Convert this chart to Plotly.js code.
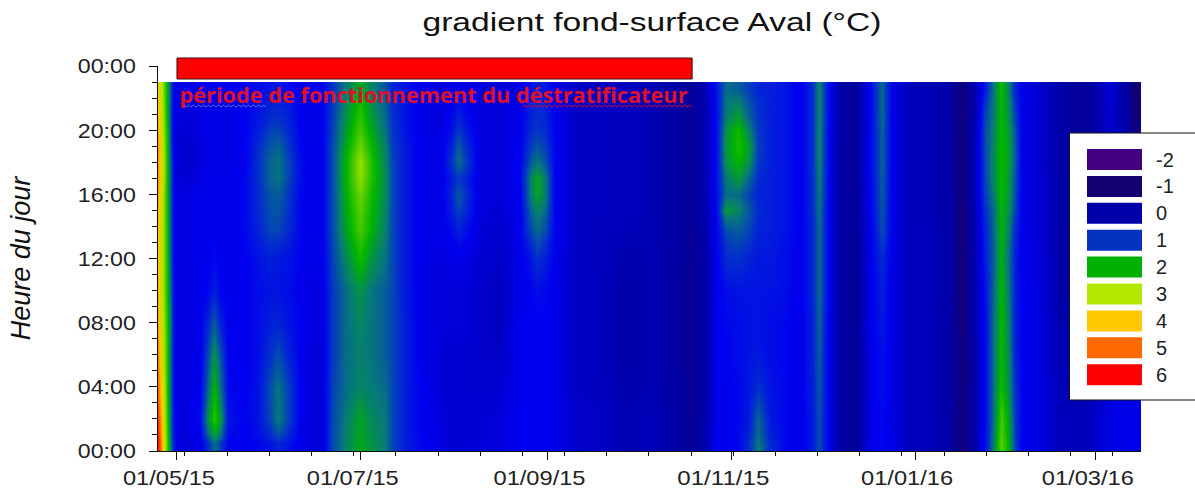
<!DOCTYPE html>
<html><head><meta charset="utf-8">
<script src="https://cdn.plot.ly/plotly-3.0.1.min.js"></script>
<style>html,body{margin:0;padding:0;background:#fff}</style></head>
<body><div id="chart" style="width:1195px;height:490px"></div>
<script>
// days since 01/05/2015 for each column of readings
const days = [-6.3,-5.3,-4.3,-3.3,-2.3,-1.3,0,2.7,7.6,10.3,12.3,14.3,16.9,22.6,26.9,30.9,33.5,36.9,40.8,44.8,48.1,51.5,55.8,60.8,64.7,69.1,71.4,75.7,80.7,87.3,91.3,93.3,95.6,100.6,107.2,113.9,117.2,119.5,122.2,125.5,132.1,140.4,148.7,157,165.3,170.3,175.3,178.9,182.3,186.3,189.6,192.9,196.9,201.9,206.8,210.8,213.1,215.5,219.5,225.1,230.1,234.1,237.4,241.7,250,256.6,260.3,264.9,268.3,270.9,273.6,275.9,278.2,280.5,286.5,293.2,301.5,309.8,315.7,317.5,322];
// cell edges of the hour-of-day readings
const hourEdges = [0,1,3,5,7,9,11,13,14.5,15.5,16.5,17.5,18.5,19.5,20.5,22,23];
// gradient (°C): one line per column, from 00h (first) up to 23h (last)
const gradient = [
[5.8,5.5,5.0,4.7,4.4,4.2,4.0,4.0,4.2,4.4,4.5,4.5,4.5,4.3,4.0,3.8],
[4.8,4.4,3.9,3.6,3.4,3.3,3.3,3.3,3.4,3.5,3.6,3.6,3.6,3.4,3.3,3.2],
[3.2,3.1,3.0,2.9,2.8,2.7,2.7,2.7,2.7,2.7,2.8,2.8,2.8,2.7,2.6,2.5],
[2.4,2.3,2.2,2.2,2.2,2.1,2.1,2.1,2.1,2.1,2.1,2.1,2.1,2.1,2.0,2.0],
[1.6,1.5,1.5,1.5,1.6,1.5,1.4,1.4,1.4,1.4,1.4,1.4,1.3,1.3,1.3,1.3],
[.9,.8,.8,.8,.8,.8,.7,.7,.7,.7,.7,.7,.6,.6,.6,.7],
[.5,.5,.5,.5,.5,.5,.5,.5,.5,.5,.4,.4,.4,.4,.5,.5],
[.4,.4,.45,.45,.45,.45,.45,.45,.45,.45,.35,.3,.3,.35,.4,.5],
[.5,.7,.6,.55,.55,.55,.55,.6,.6,.55,.5,.45,.45,.5,.5,.55],
[1.0,1.7,1.4,1.2,.95,.65,.55,.55,.55,.55,.5,.5,.5,.5,.5,.55],
[1.4,2.25,2.0,1.7,1.3,.85,.65,.6,.6,.6,.55,.55,.55,.55,.55,.6],
[1.1,1.8,1.45,1.25,.9,.65,.55,.55,.55,.55,.55,.5,.5,.5,.5,.55],
[.6,.75,.65,.6,.55,.55,.55,.55,.55,.55,.55,.5,.5,.5,.5,.55],
[.6,.6,.6,.6,.6,.6,.6,.65,.65,.65,.65,.6,.6,.6,.6,.6],
[.65,.75,.75,.7,.7,.7,.75,.9,.95,.95,1.0,1.0,.95,.85,.75,.7],
[.75,1.15,1.2,1.0,.85,.75,.85,1.15,1.2,1.25,1.35,1.35,1.25,1.1,.9,.75],
[.9,1.5,1.45,1.2,.9,.75,.8,1.15,1.25,1.3,1.45,1.45,1.35,1.15,.95,.75],
[.75,1.1,1.1,.9,.75,.7,.75,.95,1.0,1.05,1.15,1.15,1.05,.95,.85,.7],
[.55,.6,.6,.6,.6,.6,.6,.65,.65,.65,.7,.7,.65,.6,.6,.55],
[.4,.4,.4,.4,.45,.45,.5,.5,.5,.5,.5,.5,.5,.5,.5,.5],
[.45,.45,.45,.45,.5,.5,.55,.6,.6,.6,.6,.6,.6,.6,.6,.6],
[1.15,1.15,1.1,1.05,1.05,1.05,1.1,1.15,1.15,1.15,1.15,1.15,1.15,1.1,1.05,1.0],
[1.55,1.5,1.4,1.4,1.4,1.4,1.6,1.8,1.85,1.9,1.95,1.95,1.85,1.75,1.65,1.5],
[1.9,1.85,1.6,1.55,1.6,1.7,2.1,2.4,2.5,2.6,2.8,2.85,2.6,2.4,2.2,1.9],
[1.7,1.6,1.5,1.45,1.45,1.45,1.7,1.95,2.0,2.05,2.15,2.15,2.0,1.85,1.7,1.55],
[1.5,1.5,1.4,1.3,1.3,1.3,1.45,1.55,1.6,1.65,1.65,1.6,1.55,1.45,1.35,1.25],
[1.15,1.15,1.15,1.15,1.15,1.15,1.15,1.15,1.15,1.15,1.15,1.15,1.1,1.05,1.0,.9],
[.85,.85,.85,.85,.85,.8,.8,.8,.8,.8,.8,.8,.8,.75,.75,.75],
[.65,.6,.6,.55,.55,.55,.55,.55,.55,.55,.55,.55,.55,.55,.55,.55],
[.5,.45,.4,.4,.4,.4,.45,.5,.5,.5,.5,.5,.5,.45,.45,.45],
[.35,.35,.35,.35,.4,.4,.5,.7,.85,.95,.85,1.05,.9,.75,.65,.5],
[.35,.35,.35,.35,.4,.4,.55,.85,1.15,1.25,1.05,1.4,1.3,1.05,.8,.55],
[.35,.35,.35,.35,.4,.4,.5,.75,.95,1.05,.9,1.15,1.0,.85,.65,.5],
[.4,.35,.3,.3,.3,.3,.35,.4,.45,.45,.45,.45,.45,.45,.45,.45],
[.45,.45,.35,.25,.2,.2,.25,.3,.35,.4,.4,.4,.4,.4,.4,.4],
[.6,.6,.6,.6,.6,.55,.55,.6,.6,.6,.65,.65,.6,.55,.55,.5],
[.6,.6,.6,.6,.6,.6,.75,1.15,1.3,1.5,1.5,1.25,1.05,.95,.85,.75],
[.6,.6,.6,.6,.6,.7,1.0,1.4,1.6,1.85,1.9,1.5,1.25,1.05,.95,.85],
[.6,.6,.6,.6,.6,.65,.85,1.2,1.4,1.55,1.5,1.25,1.1,.95,.9,.8],
[.55,.55,.55,.55,.55,.55,.55,.6,.6,.6,.6,.6,.6,.6,.55,.55],
[.3,.3,.25,.25,.25,.25,.25,.25,.25,.25,.25,.25,.25,.25,.25,.25],
[.25,.25,.2,.2,.2,.2,.2,.2,.2,.2,.2,.2,.2,.2,.2,.2],
[.1,.1,.05,0,0,0,.05,.15,.2,.2,.2,.2,.2,.2,.2,.2],
[.15,.15,.1,.1,.1,.1,.1,.1,.1,.1,.1,.1,.1,.1,.1,.1],
[-.05,-.05,-.05,-.1,-.1,-.1,-.1,-.05,-.05,-.05,-.05,-.05,-.05,-.05,-.05,-.05],
[-.3,-.3,-.35,-.35,-.35,-.35,-.3,-.3,-.3,-.3,-.3,-.3,-.3,-.3,-.3,-.3],
[.05,.05,0,0,0,0,0,.05,.1,.1,.1,.1,.1,.1,.1,.1],
[.6,.55,.55,.55,.55,.55,.55,.6,.65,.7,.7,.7,.7,.7,.7,.75],
[.6,.6,.6,.6,.65,.7,.95,1.2,1.8,1.4,1.5,1.7,1.75,1.7,1.5,1.4],
[.65,.65,.65,.7,.7,.75,1.0,1.3,1.6,1.4,1.8,2.0,2.15,2.1,1.7,1.3],
[.95,.8,.75,.75,.75,.75,.9,1.15,1.3,1.15,1.4,1.7,1.85,1.6,1.3,1.1],
[1.5,1.35,1.0,.8,.75,.75,.8,.9,.95,.9,.95,1.05,1.1,1.05,1.0,.9],
[.95,.8,.75,.7,.7,.75,.8,.85,.85,.85,.85,.85,.85,.85,.85,.85],
[.65,.65,.65,.65,.65,.7,.7,.75,.75,.75,.75,.75,.75,.75,.75,.75],
[.55,.55,.55,.55,.55,.55,.55,.55,.55,.55,.55,.55,.55,.55,.55,.55],
[.8,.8,.85,.85,.85,.9,.9,.9,.95,.95,.95,.95,.95,.95,.95,.95],
[1.2,1.2,1.25,1.3,1.35,1.4,1.4,1.4,1.45,1.5,1.55,1.6,1.6,1.6,1.6,1.6],
[.75,.75,.75,.75,.75,.8,.8,.8,.8,.85,.85,.85,.85,.85,.9,.9],
[0,0,0,0,0,0,0,0,0,0,0,0,0,.05,.05,.05],
[-.25,-.25,-.25,-.25,-.25,-.25,-.25,-.25,-.25,-.25,-.2,-.2,-.2,-.2,-.2,-.2],
[.55,.5,.5,.5,.55,.55,.55,.55,.6,.6,.65,.65,.65,.65,.65,.65],
[.65,.65,.7,.7,.8,.85,.95,1.2,1.25,1.3,1.3,1.35,1.35,1.35,1.4,1.4],
[.55,.5,.5,.5,.5,.5,.5,.55,.55,.55,.55,.55,.55,.55,.55,.55],
[.2,.2,.2,.2,.2,.2,.2,.2,.2,.2,.2,.2,.2,.2,.2,.2],
[.15,.15,.15,.15,.15,.15,.15,.15,.1,.1,.1,.1,.1,.1,.1,.1],
[-.05,-.05,-.05,-.05,-.05,0,0,0,0,0,0,0,0,0,0,0],
[-.75,-.75,-.8,-.8,-.8,-.8,-.8,-.8,-.8,-.75,-.75,-.75,-.75,-.75,-.75,-.75],
[.05,.05,.05,.05,.1,.1,.1,.15,.15,.2,.25,.2,.2,.15,.1,.1],
[.7,.7,.7,.7,.7,.75,.85,.9,1.0,1.1,1.15,1.15,1.2,1.2,1.1,.85],
[1.5,1.4,1.4,1.4,1.4,1.35,1.3,1.35,1.4,1.5,1.6,1.6,1.6,1.55,1.5,1.45],
[2.5,2.4,2.1,2.05,2.05,2.0,1.95,2.0,2.0,2.05,2.05,2.05,2.05,2.05,2.05,2.1],
[2.0,1.9,1.7,1.65,1.6,1.55,1.45,1.6,1.7,1.8,1.8,1.85,1.85,1.8,1.7,1.6],
[1.1,1.05,1.0,.9,.85,.85,.85,.95,1.1,1.15,1.2,1.25,1.25,1.2,1.05,.9],
[.6,.6,.6,.6,.6,.6,.55,.55,.55,.55,.55,.55,.55,.55,.55,.55],
[.45,.45,.45,.45,.45,.45,.4,.35,.35,.35,.35,.3,.3,.3,.3,.3],
[.15,.15,.15,.1,.05,0,0,0,0,0,0,0,0,0,0,0],
[.15,.15,.1,.05,0,-.05,-.1,-.15,-.2,-.2,-.2,-.25,-.25,-.25,-.25,-.25],
[.5,.5,.45,.35,.3,.3,.3,.3,.3,.3,.3,.3,.3,.3,.35,.4],
[.55,.55,.5,.45,.4,.35,.3,.25,.2,.15,.1,.1,.05,0,-.1,-.2],
[.6,.55,.55,.5,.4,.3,.2,.1,0,-.1,-.3,-.4,-.5,-.6,-.8,-.9],
[.6,.55,.55,.5,.4,.3,.2,.1,0,-.1,-.3,-.4,-.5,-.6,-.8,-.9]
];
const yTickVals = [0,4,8,12,16,20,24];
const yTickText = ["00:00","04:00","08:00","12:00","16:00","20:00","00:00"];
const xTickDates = ["2015-05-01","2015-07-01","2015-09-01","2015-11-01","2016-01-01","2016-03-01"];
const xTickText = ["01/05/15","01/07/15","01/09/15","01/11/15","01/01/16","01/03/16"];
const legendLevels = ["-2","-1","0","1","2","3","4","5","6"];
const legendColors = ["#43007f","#14006f","#0000aa","#0533c0","#00b000","#b2e800","#ffc800","#ff6a00","#ff0000"];
const barStart = "2015-05-01", barEnd = "2015-10-19";

const dayMs = d => Date.UTC(2015,4,1) + d*864e5;
const X0=158, X1=1141, Y0=451, Y1=66;
const px = v => (v-X0)/(X1-X0);
const py = v => (Y0-v)/(Y0-Y1);

const zmin=-2, zmax=6;
const stop = v => (v-zmin)/(zmax-zmin);
const scale = [
 [stop(-2),"#43007f"],[stop(-1),"#14006f"],[stop(0),"#0000a8"],[stop(.6),"#0000f0"],
 [stop(1),"#0330cc"],[stop(1.5),"#067a78"],[stop(2),"#00b400"],[stop(3),"#b0e800"],
 [stop(4),"#ffc800"],[stop(5),"#ff6a00"],[stop(6),"#ff0000"]];

function squiggle(x0,x1,y,step,amp){
  let p=`M ${px(x0)} ${py(y)}`, up=true;
  for(let x=x0+step;x<=x1;x+=step){p+=` L ${px(x)} ${py(y+(up?-amp:0))}`;up=!up;}
  return p;
}
const shapes=[
 {type:"rect",xref:"x",yref:"paper",x0:barStart,x1:barEnd,y0:py(79),y1:py(58),fillcolor:"#ff0000",line:{color:"#3a1010",width:1}},
 {type:"path",xref:"paper",yref:"paper",path:squiggle(181,267,107,2.5,2),line:{color:"#5a6fd0",width:1}},
 {type:"path",xref:"paper",yref:"paper",path:squiggle(522,692,107,2.5,2),line:{color:"#d01030",width:1}},
 {type:"rect",xref:"paper",yref:"paper",x0:px(1069.5),x1:px(1196),y0:py(400),y1:py(133),fillcolor:"#fff",line:{color:"#111",width:1}}
];
const annotations=[
 {xref:"paper",yref:"paper",x:px(186),y:py(95),xanchor:"left",yanchor:"middle",showarrow:false,
  text:"<b>période de fonctionnement du déstratificateur</b>",font:{family:"Open Sans",size:21,color:"#e0102a"}}
];
legendLevels.forEach((lab,i)=>{
  const top=149+i*26.9;
  shapes.push({type:"rect",xref:"paper",yref:"paper",x0:px(1087),x1:px(1142),y0:py(top+21),y1:py(top),fillcolor:legendColors[i],line:{width:0}});
  annotations.push({xref:"paper",yref:"paper",x:px(1154),y:py(top+10.5),xanchor:"left",yanchor:"middle",showarrow:false,
    text:lab,font:{family:"Liberation Sans",size:20,color:"#222"}});
});

Plotly.newPlot("chart",[{
  type:"heatmap",x:days.map(dayMs),y:hourEdges,z:gradient,transpose:true,
  zsmooth:"best",zmin,zmax,colorscale:scale,showscale:false,hoverinfo:"skip"
}],{
  width:1195,height:490,paper_bgcolor:"#fff",plot_bgcolor:"#fff",
  margin:{l:X0,r:1195-X1,t:Y1,b:490-Y0,pad:0},
  title:{text:"gradient fond-surface Aval (°C)",x:652/1195,xanchor:"center",y:1-22/490,yanchor:"middle",
    font:{family:"Liberation Sans",size:26,color:"#111"}},
  font:{family:"Liberation Sans",color:"#222"},
  xaxis:{type:"date",range:[dayMs(-6.3),dayMs(320)],tickmode:"array",tickvals:xTickDates,ticktext:xTickText,
    ticks:"outside",ticklen:8,tickwidth:1,tickcolor:"#111",showline:true,linecolor:"#111",linewidth:1,
    showgrid:false,zeroline:false,tickfont:{size:21,color:"#222"},ticklabelshift:-8,
    minor:{ticks:"outside",ticklen:4,tickwidth:1,tickcolor:"#111",tick0:dayMs(2.66),dtick:14*864e5,showgrid:false}},
  yaxis:{range:[0,24],tickmode:"array",tickvals:yTickVals,ticktext:yTickText,
    ticks:"outside",ticklen:8,tickwidth:1,tickcolor:"#111",showline:true,linecolor:"#111",linewidth:1,
    showgrid:false,zeroline:false,tickfont:{size:21,color:"#222"},ticklabelstandoff:9,
    minor:{ticks:"outside",ticklen:5,tickwidth:1,tickcolor:"#111",tick0:0,dtick:1,showgrid:false},
    title:{text:"<i>Heure du jour</i>",standoff:44,font:{family:"Liberation Sans",size:27,color:"#111"}}},
  shapes,annotations
},{displayModeBar:false,staticPlot:true}).then(()=>{
  const fit=(sel,len)=>document.querySelectorAll(sel).forEach(t=>{
    t.setAttribute("textLength",len);t.setAttribute("lengthAdjust","spacingAndGlyphs");});
  fit(".gtitle",459); fit(".xtick text",92); fit(".ytick text",58);
  const ann=document.querySelector(".annotation-text");
  if(ann) { ann.setAttribute("textLength",508); ann.setAttribute("lengthAdjust","spacingAndGlyphs"); }
});
</script></body></html>
